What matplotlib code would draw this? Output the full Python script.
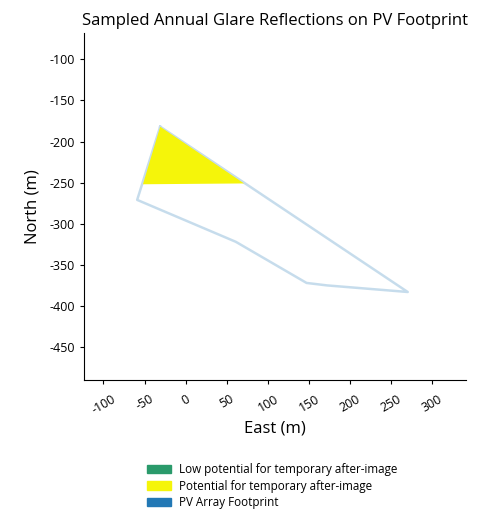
import matplotlib
matplotlib.use('Agg')
import matplotlib.pyplot as plt
from matplotlib.patches import Patch, Polygon

# PV array footprint outline (East, North in m)
footprint_x = [-31, -59, 61, 147, 172, 270, -31]
footprint_y = [-182, -271, -322, -372, -375, -383, -182]

# glare region (potential for temporary after-image)
glare_x = [-31, -52, 71]
glare_y = [-182, -252, -251]

legend_labels = ['Low potential for temporary after-image',
                 'Potential for temporary after-image',
                 'PV Array Footprint']
legend_colors = ['#2a9a6b', '#f5f50a', '#2278b5']

plt.rcParams['font.family'] = ['Open Sans', 'DejaVu Sans']
plt.rcParams['axes.unicode_minus'] = False

fig = plt.figure(figsize=(4.87, 5.29), dpi=100)
ax = fig.add_axes([0.170, 0.2817, 0.789, 0.656])

ax.plot(footprint_x, footprint_y, color='#1f77b4', alpha=0.25, lw=1.8, zorder=2)
ax.add_patch(Polygon(list(zip(glare_x, glare_y)), closed=True,
                     facecolor='#f5f50a', edgecolor='none', zorder=3))

ax.set_xlim(-124, 341)
ax.set_ylim(-490, -68)
ax.set_aspect('equal')
ax.set_xticks([-100, -50, 0, 50, 100, 150, 200, 250, 300])
ax.set_yticks([-100, -150, -200, -250, -300, -350, -400, -450])
ax.tick_params(labelsize=9, length=3)
ax.tick_params(axis='x', pad=6)
plt.setp(ax.get_xticklabels(), rotation=30)
ax.spines['top'].set_visible(False)
ax.spines['right'].set_visible(False)

ax.set_title('Sampled Annual Glare Reflections on PV Footprint', fontsize=12)
ax.set_xlabel('East (m)', fontsize=12, labelpad=3)
ax.set_ylabel('North (m)', fontsize=12, labelpad=6)

handles = [Patch(color=c, label=l) for c, l in zip(legend_colors, legend_labels)]
fig.legend(handles=handles, loc='upper left', bbox_to_anchor=(0.293, 0.134),
           frameon=False, fontsize=8.4, handlelength=2.0, labelspacing=0.32,
           handletextpad=0.7, borderaxespad=0)

fig.savefig('out.png', dpi=100)
